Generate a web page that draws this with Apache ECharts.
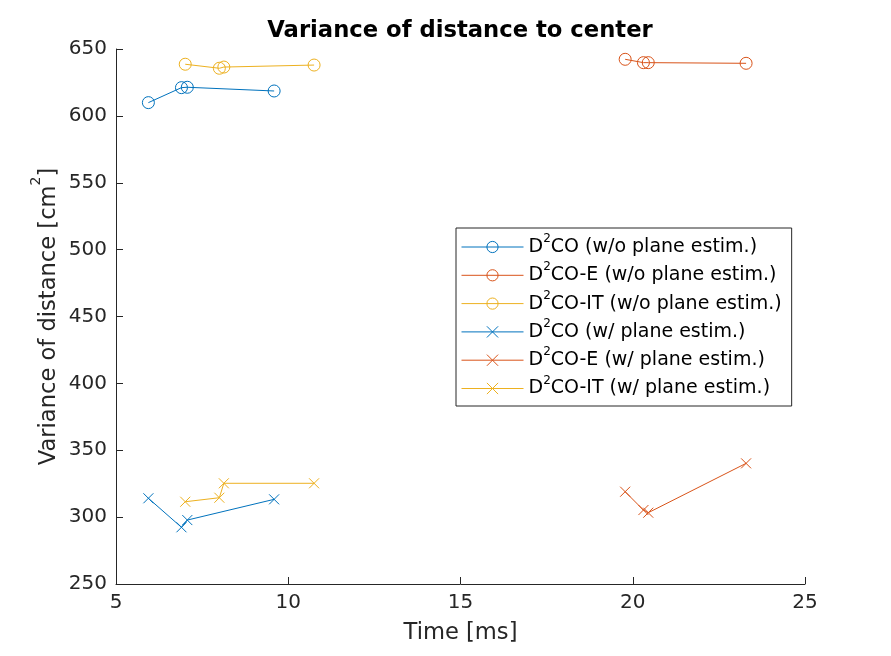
<!DOCTYPE html>
<html><head><meta charset="utf-8">
<script src="https://cdn.jsdelivr.net/npm/echarts@6/dist/echarts.min.js"></script>
<style>html,body{margin:0;padding:0;background:#fff}#c{width:891px;height:656px}</style>
</head><body><div id="c"></div>
<script>
// ---- data ----
const seriesNames = [
  'D2CO (w/o plane estim.)',
  'D2CO-E (w/o plane estim.)',
  'D2CO-IT (w/o plane estim.)',
  'D2CO (w/ plane estim.)',
  'D2CO-E (w/ plane estim.)',
  'D2CO-IT (w/ plane estim.)'
];
const timeD2CO   = [5.94, 6.90, 7.07, 9.59];
const timeD2COE  = [19.78, 20.31, 20.45, 23.29];
const timeD2COIT = [7.01, 8.00, 8.13, 10.75];

const varD2CO_noPlane   = [609.9, 621.1, 621.4, 618.6];
const varD2COE_noPlane  = [642.3, 639.8, 639.8, 639.3];
const varD2COIT_noPlane = [638.6, 635.6, 636.5, 638.0];
const varD2CO_plane     = [314.1, 292.4, 297.8, 313.3];
const varD2COE_plane    = [319.0, 305.3, 303.3, 340.2];
const varD2COIT_plane   = [311.5, 314.5, 325.3, 325.3];

const xTicks = [5, 10, 15, 20, 25];
const yTicks = [250, 300, 350, 400, 450, 500, 550, 600, 650];

// ---- styling ----
const C = ['#0072BD', '#D95319', '#EDB120'];
const FONT = 'DejaVu Sans';
const AX = '#262626';
const CROSS = 'path://M0,0L10,10M10,0L0,10';

function zip(xs, ys) { return xs.map((x, i) => [x, ys[i]]); }

const defs = [
  [timeD2CO, varD2CO_noPlane, C[0], 'circle'],
  [timeD2COE, varD2COE_noPlane, C[1], 'circle'],
  [timeD2COIT, varD2COIT_noPlane, C[2], 'circle'],
  [timeD2CO, varD2CO_plane, C[0], 'cross'],
  [timeD2COE, varD2COE_plane, C[1], 'cross'],
  [timeD2COIT, varD2COIT_plane, C[2], 'cross']
];

const series = defs.map((d, i) => ({
  name: seriesNames[i],
  type: 'line',
  data: zip(d[0], d[1]),
  symbol: d[3] === 'circle' ? 'circle' : CROSS,
  symbolSize: d[3] === 'circle' ? 12 : 10,
  showAllSymbol: true,
  lineStyle: { color: d[2], width: 1 },
  itemStyle: { color: 'rgba(0,0,0,0)', borderColor: d[2], borderWidth: 1 },
  emphasis: { disabled: true },
  z: 2 + i
}));

const chart = echarts.init(document.getElementById('c'), null, { renderer: 'canvas' });
chart.setOption({
  animation: false,
  backgroundColor: '#fff',
  title: {
    text: 'Variance of distance to center',
    left: 460, top: 19, textAlign: 'center', padding: 0,
    textStyle: { fontFamily: FONT, fontSize: 22.7, fontWeight: 'bold', color: '#000', lineHeight: 25 }
  },
  grid: { left: 116, right: 86, top: 49, bottom: 72, containLabel: false },
  legend: {
    orient: 'vertical',
    left: 456, top: 228,
    padding: [5, 10, 8, 5],
    itemGap: 4.8,
    itemWidth: 62, itemHeight: 14,
    backgroundColor: '#fff',
    borderColor: AX, borderWidth: 1, borderRadius: 0,
    selectedMode: false,
    data: seriesNames,
    itemStyle: { borderWidth: 1 },
    lineStyle: { width: 1 },
    formatter: function (name) { return '{n|D}{s|2}{n|' + name.slice(2) + '}'; },
    textStyle: {
      fontFamily: FONT, fontSize: 19, color: '#000',
      rich: {
        n: { fontFamily: FONT, fontSize: 19, lineHeight: 28, color: '#000' },
        s: { fontFamily: FONT, fontSize: 12, lineHeight: 11, verticalAlign: 'top', color: '#000' }
      }
    }
  },
  xAxis: {
    type: 'value', min: 5, max: 25, interval: 5,
    name: 'Time [ms]', nameLocation: 'middle', nameGap: 36, nameMoveOverlap: false,
    nameTextStyle: { fontFamily: FONT, fontSize: 22.6, color: AX, lineHeight: 26 },
    axisLine: { show: true, onZero: false, lineStyle: { color: AX, width: 1 } },
    axisTick: { show: true, inside: true, length: 7, lineStyle: { color: AX, width: 1 } },
    axisLabel: { margin: 9, fontFamily: FONT, fontSize: 20, color: AX, showMinLabel: true, showMaxLabel: true },
    splitLine: { show: false }
  },
  yAxis: {
    type: 'value', min: 250, max: 650, interval: 50,
    name: '{n|Variance of distance [cm}{s|2}{n|]}',
    nameLocation: 'middle', nameGap: 47, nameMoveOverlap: false,
    nameTextStyle: {
      fontFamily: FONT, fontSize: 22.6, color: AX,
      rich: {
        n: { fontFamily: FONT, fontSize: 22.6, lineHeight: 40, color: AX },
        s: { fontFamily: FONT, fontSize: 14, lineHeight: 8, verticalAlign: 'top', color: AX }
      }
    },
    axisLine: { show: true, onZero: false, lineStyle: { color: AX, width: 1 } },
    axisTick: { show: true, inside: true, length: 7, lineStyle: { color: AX, width: 1 } },
    axisLabel: { margin: 9, fontFamily: FONT, fontSize: 20, color: AX, showMinLabel: true, showMaxLabel: true },
    splitLine: { show: false }
  },
  series: series
});
</script></body></html>
